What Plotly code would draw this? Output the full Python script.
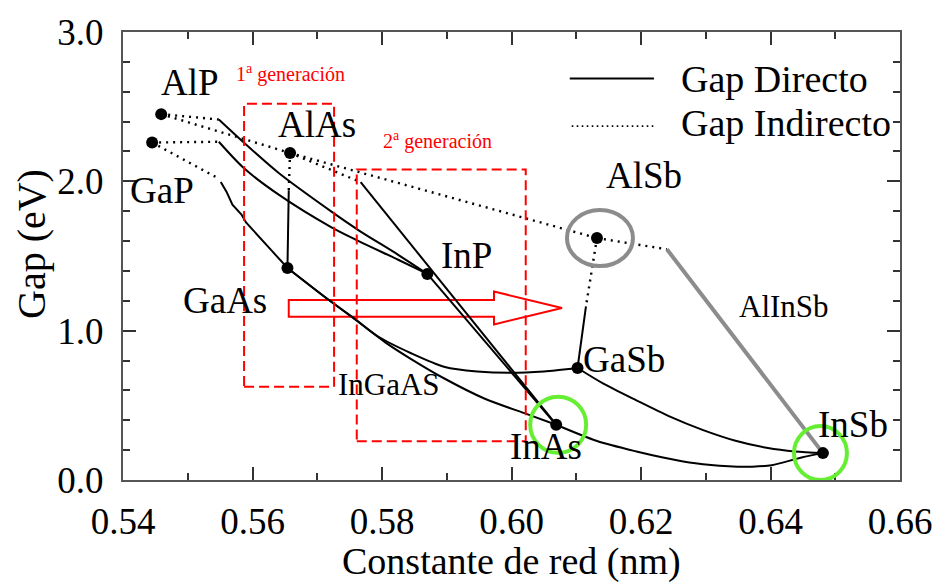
import plotly.graph_objects as go

FONT = "Liberation Serif, Times New Roman, serif"

# Binary compounds: lattice constant (nm) and band gap (eV)
compounds = ["AlP", "GaP", "AlAs", "GaAs", "InP", "AlSb", "GaSb", "InAs", "InSb"]
lattice_nm = [0.5459, 0.5445, 0.5658, 0.5654, 0.5870, 0.6132, 0.6102, 0.6069, 0.6481]
gap_ev = [2.45, 2.26, 2.19, 1.42, 1.38, 1.62, 0.75, 0.37, 0.18]

# Indirect-gap branches (dotted)
alp_alas_x, alp_alas_y = [0.5459, 0.5658], [2.45, 2.19]
alas_alsb_x, alas_alsb_y = [0.5658, 0.6132], [2.19, 1.62]
alp_inp_ind_x, alp_inp_ind_y = [0.5459, 0.5548], [2.45, 2.414]
gap_inp_ind_x, gap_inp_ind_y = [0.5445, 0.5548], [2.26, 2.265]
gap_gaas_ind_x, gap_gaas_ind_y = [0.5445, 0.5548], [2.26, 2.018]
alas_gaas_ind_x, alas_gaas_ind_y = [0.5658, 0.5656], [2.19, 1.94]
alas_inas_ind_x, alas_inas_ind_y = [0.5658, 0.5767], [2.19, 1.995]
alsb_gasb_ind_x, alsb_gasb_ind_y = [0.6132, 0.6115], [1.62, 1.163]
alsb_insb_ind_x, alsb_insb_ind_y = [0.6132, 0.6240], [1.62, 1.545]

# Direct-gap branches (solid)
alp_inp_x = [0.5548, 0.5587, 0.5641, 0.5722, 0.5764, 0.5825, 0.5870]
alp_inp_y = [2.414, 2.258, 2.054, 1.797, 1.672, 1.508, 1.38]
gap_inp_x = [0.5548, 0.5587, 0.5641, 0.5722, 0.5764, 0.5825, 0.5870]
gap_inp_y = [2.265, 2.087, 1.909, 1.692, 1.600, 1.475, 1.38]
gap_gaas_x = [0.5551, 0.5560, 0.5569, 0.5583, 0.5590, 0.5610, 0.5630, 0.5654]
gap_gaas_y = [1.995, 1.929, 1.843, 1.778, 1.725, 1.633, 1.534, 1.42]
alas_gaas_x, alas_gaas_y = [0.5656, 0.5654], [1.94, 1.42]
alas_inas_x, alas_inas_y = [0.5767, 0.6069], [1.995, 0.37]
inp_inas_x, inp_inas_y = [0.5870, 0.6069], [1.38, 0.37]
gaas_inas_x = [0.5654, 0.5718, 0.5759, 0.5805, 0.5845, 0.5897, 0.5958, 0.6024, 0.6069]
gaas_inas_y = [1.42, 1.205, 1.073, 0.922, 0.810, 0.678, 0.546, 0.441, 0.37]
gaas_gasb_x = [0.5654, 0.5718, 0.5756, 0.5794, 0.5845, 0.5897, 0.5947, 0.5998, 0.6050, 0.6102]
gaas_gasb_y = [1.42, 1.205, 1.086, 0.961, 0.849, 0.757, 0.727, 0.718, 0.727, 0.75]
inas_insb_x = [0.6069, 0.6131, 0.6193, 0.6234, 0.6284, 0.6335, 0.6372, 0.6402, 0.6448, 0.6481]
inas_insb_y = [0.37, 0.263, 0.191, 0.151, 0.112, 0.092, 0.089, 0.099, 0.151, 0.18]
gasb_insb_x = [0.6102, 0.6142, 0.6193, 0.6243, 0.6295, 0.6346, 0.6396, 0.6438, 0.6481]
gasb_insb_y = [0.75, 0.645, 0.533, 0.428, 0.336, 0.263, 0.214, 0.191, 0.18]
alsb_gasb_x, alsb_gasb_y = [0.6115, 0.6102], [1.163, 0.75]
alsb_insb_x, alsb_insb_y = [0.6240, 0.6481], [1.545, 0.18]

# Text labels placed next to the compounds
label_text = ["AlP", "GaP", "AlAs", "GaAs", "InP", "AlSb", "GaSb", "InAs", "InSb"]
label_x = [0.5503, 0.5460, 0.5699, 0.5558, 0.5931, 0.6205, 0.6174, 0.6053, 0.6527]
label_y = [2.660, 1.936, 2.383, 1.205, 1.501, 2.041, 0.810, 0.224, 0.369]

DOT = "2px,5px"
fig = go.Figure()


def add_line(x, y, dotted=False, color="black", width=2, smooth=False):
    fig.add_trace(go.Scatter(
        x=x, y=y, mode="lines", hoverinfo="skip", showlegend=False,
        line=dict(color=color, width=2.4 if dotted else width,
                  dash=DOT if dotted else "solid",
                  shape="spline" if smooth else "linear",
                  smoothing=0.8 if smooth else None),
    ))


for xs, ys in [(alp_alas_x, alp_alas_y), (alas_alsb_x, alas_alsb_y),
               (alp_inp_ind_x, alp_inp_ind_y), (gap_inp_ind_x, gap_inp_ind_y),
               (gap_gaas_ind_x, gap_gaas_ind_y), (alas_gaas_ind_x, alas_gaas_ind_y),
               (alas_inas_ind_x, alas_inas_ind_y), (alsb_gasb_ind_x, alsb_gasb_ind_y),
               (alsb_insb_ind_x, alsb_insb_ind_y)]:
    add_line(xs, ys, dotted=True)

for xs, ys in [(alp_inp_x, alp_inp_y), (gap_inp_x, gap_inp_y),
               (gaas_inas_x, gaas_inas_y), (gaas_gasb_x, gaas_gasb_y),
               (inas_insb_x, inas_insb_y), (gasb_insb_x, gasb_insb_y)]:
    add_line(xs, ys, smooth=True)

for xs, ys in [(gap_gaas_x, gap_gaas_y), (alas_gaas_x, alas_gaas_y),
               (alas_inas_x, alas_inas_y), (inp_inas_x, inp_inas_y),
               (alsb_gasb_x, alsb_gasb_y)]:
    add_line(xs, ys)

add_line(alsb_insb_x, alsb_insb_y, color="#8c8c8c", width=4)

fig.add_trace(go.Scatter(
    x=lattice_nm, y=gap_ev, mode="markers", text=compounds, showlegend=False,
    marker=dict(color="black", size=12),
))

red = "#ff0000"
green = "#66ee33"
shapes = [
    # generation boxes
    dict(type="rect", x0=0.5587, x1=0.5726, y0=0.625, y1=2.519,
         line=dict(color=red, width=2, dash="10px,5px")),
    dict(type="rect", x0=0.5761, x1=0.6022, y0=0.259, y1=2.080,
         line=dict(color=red, width=2, dash="10px,5px")),
    # arrow
    dict(type="path", layer="below", fillcolor="white",
         line=dict(color=red, width=2),
         path="M0.5656,1.2047 L0.5973,1.2047 L0.5973,1.262 L0.6078,1.1521 "
              "L0.5973,1.0421 L0.5973,1.0928 L0.5656,1.0928 Z"),
    # highlight circles
    dict(type="circle", xref="x", yref="y", xsizemode="pixel", ysizemode="pixel",
         xanchor=lattice_nm[7], yanchor=gap_ev[7], x0=-26, x1=30, y0=-28, y1=28,
         line=dict(color=green, width=4)),
    dict(type="circle", xref="x", yref="y", xsizemode="pixel", ysizemode="pixel",
         xanchor=lattice_nm[8], yanchor=gap_ev[8], x0=-29, x1=24, y0=-27, y1=27,
         line=dict(color=green, width=4)),
    dict(type="circle", xref="x", yref="y", xsizemode="pixel", ysizemode="pixel",
         xanchor=lattice_nm[5], yanchor=gap_ev[5], x0=-30, x1=36, y0=-28, y1=28,
         line=dict(color="#8c8c8c", width=4)),
    # legend keys
    dict(type="line", x0=0.6090, x1=0.6220, y0=2.688, y1=2.688,
         line=dict(color="black", width=2)),
    dict(type="line", x0=0.6093, x1=0.6219, y0=2.37, y1=2.37,
         line=dict(color="black", width=1.6, dash="1.6px,3.4px")),
]

annotations = []
for t, x, y in zip(label_text, label_x, label_y):
    annotations.append(dict(x=x, y=y, text=t, showarrow=False,
                            font=dict(family=FONT, size=37, color="black")))
annotations += [
    dict(x=0.5811, y=0.639, text="InGaAS", showarrow=False,
         font=dict(family=FONT, size=31, color="black")),
    dict(x=0.6421, y=1.165, text="AlInSb", showarrow=False,
         font=dict(family=FONT, size=31, color="black")),
    dict(x=0.5658, y=2.725, text="1<sup>a</sup> generación", showarrow=False,
         font=dict(family=FONT, size=20, color=red)),
    dict(x=0.5886, y=2.272, text="2<sup>a</sup> generación", showarrow=False,
         font=dict(family=FONT, size=20, color=red)),
    dict(x=0.6259, y=2.686, text="Gap Directo", xanchor="left", showarrow=False,
         font=dict(family=FONT, size=38, color="black")),
    dict(x=0.6259, y=2.39, text="Gap Indirecto", xanchor="left", showarrow=False,
         font=dict(family=FONT, size=38, color="black")),
    dict(xref="paper", yref="paper", x=0.5, y=-0.182, xanchor="center", yanchor="middle",
         text="Constante de red (nm)", showarrow=False,
         font=dict(family=FONT, size=38, color="black")),
    dict(xref="paper", yref="paper", x=-0.117, y=0.527, xanchor="center", yanchor="middle",
         text="Gap (eV)", textangle=-90, showarrow=False,
         font=dict(family=FONT, size=40, color="black")),
]

axis_common = dict(
    showline=True, linecolor="#555555", linewidth=2, mirror="ticks",
    ticks="inside", ticklen=13, tickwidth=1.5, tickcolor="#333333",
    showgrid=False, zeroline=False,
    tickfont=dict(family=FONT, size=37, color="black"),
)

fig.update_layout(
    width=944, height=582,
    margin=dict(l=123, r=38, t=24, b=102),
    paper_bgcolor="white", plot_bgcolor="white",
    shapes=shapes, annotations=annotations, showlegend=False,
    xaxis=dict(range=[0.54, 0.66], dtick=0.02, tick0=0.54, tickformat=".2f",
               ticklabelstandoff=8,
               minor=dict(ticks="inside", ticklen=7, dtick=0.01, tickcolor="#333333"),
               **axis_common),
    yaxis=dict(range=[0, 3], dtick=1, tickformat=".1f", ticklabelstandoff=10,
               minor=dict(ticks="inside", ticklen=7, dtick=0.2, tickcolor="#333333"),
               **axis_common),
)

fig.write_html("out.html")
